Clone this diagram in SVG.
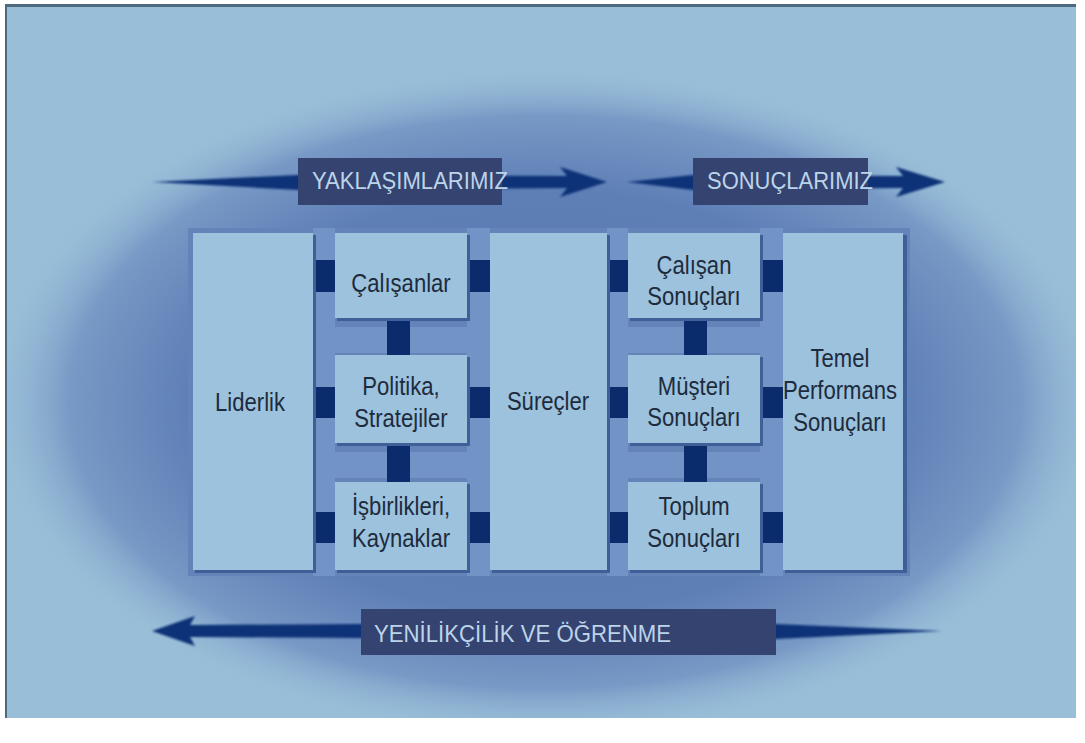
<svg xmlns="http://www.w3.org/2000/svg" width="1085" height="743" viewBox="0 0 1085 743">
<defs>
<radialGradient id="glow" cx="0.5" cy="0.5" r="0.5">
<stop offset="0" stop-color="#5878b0"/>
<stop offset="0.62" stop-color="#5e7fb6"/>
<stop offset="0.84" stop-color="#7898c5"/>
<stop offset="1" stop-color="#99bfd8" stop-opacity="0"/>
</radialGradient>
<clipPath id="frame"><rect x="6" y="5" width="1070" height="713"/></clipPath>
<filter id="blur" x="-10%" y="-10%" width="120%" height="120%"><feGaussianBlur stdDeviation="1"/></filter>
</defs>
<style>
.box{fill:#9cc2dd}
.shadow{fill:#3f5f98}
.stub{fill:#0b2c6c}
.rail{fill:#7293c6}
.label{fill:#34436f}
.arrow{fill:#0d3177}
.t{font-family:"Liberation Sans",Arial,sans-serif;font-size:26px;fill:#1d2b3c;text-anchor:middle}
.tt{font-family:"Liberation Sans",Arial,sans-serif;font-size:24px;fill:#bcd4ea}
</style>
<rect x="0" y="0" width="1085" height="743" fill="#ffffff"/>
<rect x="6" y="5" width="1070" height="713" fill="#99bfd8"/>
<ellipse cx="545" cy="402" rx="565" ry="340" fill="url(#glow)" clip-path="url(#frame)"/>
<rect x="6" y="4" width="1070" height="3" fill="#4d6a7e"/>
<rect x="5" y="4" width="2" height="714" fill="#4d6a7e"/>

<g id="panel">
<rect x="188" y="228" width="722" height="348" fill="#6383b9"/>
<rect class="rail" x="313" y="228" width="22" height="348"/>
<rect class="rail" x="467" y="228" width="23" height="348"/>
<rect class="rail" x="607" y="228" width="21" height="348"/>
<rect class="rail" x="760" y="228" width="23" height="348"/>
<rect class="rail" x="335" y="327" width="155" height="26"/>
<rect class="rail" x="335" y="452" width="155" height="26"/>
<rect class="rail" x="628" y="327" width="155" height="26"/>
<rect class="rail" x="628" y="452" width="155" height="26"/>
</g>

<g id="connectors">
<rect class="stub" x="313" y="260" width="23" height="32"/>
<rect class="stub" x="467" y="260" width="24" height="32"/>
<rect class="stub" x="607" y="260" width="22" height="32"/>
<rect class="stub" x="760" y="260" width="24" height="32"/>
<rect class="stub" x="313" y="387" width="23" height="31"/>
<rect class="stub" x="467" y="387" width="24" height="31"/>
<rect class="stub" x="607" y="387" width="22" height="31"/>
<rect class="stub" x="760" y="387" width="24" height="31"/>
<rect class="stub" x="313" y="512" width="23" height="31"/>
<rect class="stub" x="467" y="512" width="24" height="31"/>
<rect class="stub" x="607" y="512" width="22" height="31"/>
<rect class="stub" x="760" y="512" width="24" height="31"/>
<rect class="stub" x="387" y="318" width="23" height="38"/>
<rect class="stub" x="387" y="443" width="23" height="40"/>
<rect class="stub" x="684" y="318" width="23" height="38"/>
<rect class="stub" x="684" y="443" width="23" height="40"/>
</g>

<g id="liderlik">
<rect class="shadow" x="195" y="235" width="121" height="338"/>
<rect class="box" x="193" y="233" width="120" height="337"/>
<g transform="translate(250,411) scale(0.85,1)"><text class="t" x="0" y="0">Liderlik</text></g>
</g>
<g id="calisanlar">
<rect class="shadow" x="337" y="235" width="133" height="86"/>
<rect class="box" x="335" y="233" width="132" height="85"/>
<g transform="translate(401,292) scale(0.85,1)"><text class="t" x="0" y="0">Çalışanlar</text></g>
</g>
<g id="politika">
<rect class="shadow" x="337" y="357" width="133" height="89"/>
<rect class="box" x="335" y="355" width="132" height="88"/>
<g transform="translate(401,395) scale(0.85,1)"><text class="t" x="0" y="0">Politika,</text><text class="t" x="0" y="32">Stratejiler</text></g>
</g>
<g id="isbirlikleri">
<rect class="shadow" x="337" y="484" width="133" height="89"/>
<rect class="box" x="335" y="482" width="132" height="88"/>
<g transform="translate(401,515) scale(0.85,1)"><text class="t" x="0" y="0">İşbirlikleri,</text><text class="t" x="0" y="32">Kaynaklar</text></g>
</g>
<g id="surecler">
<rect class="shadow" x="492" y="235" width="118" height="338"/>
<rect class="box" x="490" y="233" width="117" height="337"/>
<g transform="translate(548,410) scale(0.85,1)"><text class="t" x="0" y="0">Süreçler</text></g>
</g>
<g id="calisan-sonuclari">
<rect class="shadow" x="630" y="235" width="133" height="86"/>
<rect class="box" x="628" y="233" width="132" height="85"/>
<g transform="translate(694,274) scale(0.85,1)"><text class="t" x="0" y="0">Çalışan</text><text class="t" x="0" y="31">Sonuçları</text></g>
</g>
<g id="musteri-sonuclari">
<rect class="shadow" x="630" y="357" width="133" height="89"/>
<rect class="box" x="628" y="355" width="132" height="88"/>
<g transform="translate(694,395) scale(0.85,1)"><text class="t" x="0" y="0">Müşteri</text><text class="t" x="0" y="31">Sonuçları</text></g>
</g>
<g id="toplum-sonuclari">
<rect class="shadow" x="630" y="484" width="133" height="89"/>
<rect class="box" x="628" y="482" width="132" height="88"/>
<g transform="translate(694,515) scale(0.85,1)"><text class="t" x="0" y="0">Toplum</text><text class="t" x="0" y="32">Sonuçları</text></g>
</g>
<g id="temel">
<rect class="shadow" x="785" y="235" width="122" height="338"/>
<rect class="box" x="783" y="233" width="120" height="337"/>
<g transform="translate(840,367) scale(0.85,1)"><text class="t" x="0" y="0">Temel</text><text class="t" x="0" y="32">Performans</text><text class="t" x="0" y="64">Sonuçları</text></g>
</g>

<g id="yaklasimlarimiz">
<polygon class="arrow" filter="url(#blur)" points="152,182 298,175 567,176 560,167 607,182 560,197 567,188 298,190"/>
<rect class="label" x="298" y="158" width="204" height="47"/>
<text class="tt" x="312" y="189" textLength="196" lengthAdjust="spacingAndGlyphs">YAKLAŞIMLARIMIZ</text>
</g>
<g id="sonuclarimiz">
<polygon class="arrow" filter="url(#blur)" points="627,182 693,175 903,176 896,167 945,182 896,197 903,188 693,190"/>
<rect class="label" x="693" y="158" width="175" height="47"/>
<text class="tt" x="707" y="189" textLength="166" lengthAdjust="spacingAndGlyphs">SONUÇLARIMIZ</text>
</g>
<g id="yenilikcilik">
<polygon class="arrow" filter="url(#blur)" points="152,631 195,616 190,625 361,624 776,624 942,631 776,639 361,638 190,637 195,646"/>
<rect class="label" x="361" y="609" width="415" height="46"/>
<text class="tt" x="374" y="642" textLength="297" lengthAdjust="spacingAndGlyphs">YENİLİKÇİLİK VE ÖĞRENME</text>
</g>
</svg>
